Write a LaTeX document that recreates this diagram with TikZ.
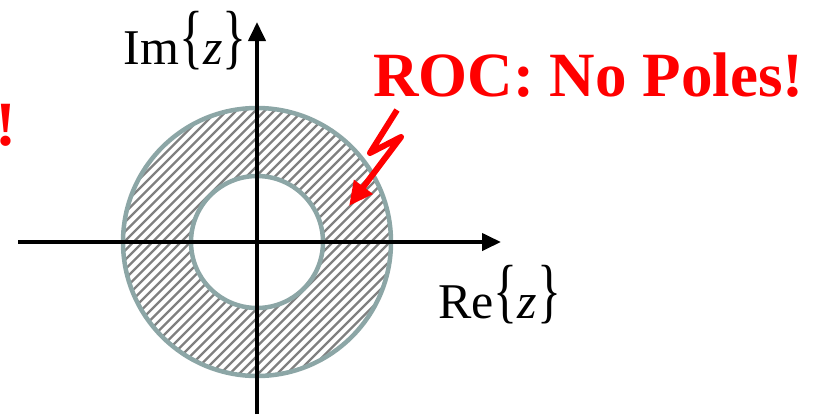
\documentclass[tikz,border=0pt]{standalone}
\usepackage{fontspec}
\setmainfont{Liberation Serif}
\usetikzlibrary{arrows.meta}
\definecolor{ringgray}{RGB}{140,166,166}
\definecolor{hatchgray}{RGB}{128,128,128}
\newcommand{\tallbr}[1]{\raisebox{0.07em}{\scalebox{1}[1.42]{#1}}}
\tikzset{
  axis/.style    = {line width=4bp, -{Triangle[length=19bp, width=17bp]}},
  ring/.style    = {draw=ringgray, line width=4.5bp},
  hatch/.style   = {draw=hatchgray, line width=2.2bp},
  axlabel/.style = {font=\fontsize{50bp}{56bp}\selectfont, inner sep=0pt},
  alert/.style   = {text=red, font=\fontsize{63bp}{70bp}\selectfont\bfseries, inner sep=0pt},
  bolt/.style    = {draw=red, line width=6bp, line join=round,
                    -{Triangle[length=24bp, width=22bp]}},
}
\begin{document}
\begin{tikzpicture}[x=1bp, y=-1bp]
\useasboundingbox (0,0) rectangle (827,417);

\coordinate (o) at (257,242);
\coordinate (xl) at (18,242);
\coordinate (xr) at (501,242);
\coordinate (yb) at (257,414);
\coordinate (yt) at (257,22);

\begin{scope}[even odd rule]
  \clip (o) circle[radius=134] (o) circle[radius=66];
  \foreach \k in {-30,...,30}
    \draw[hatch] ([xshift=\k*9.5bp-150bp, yshift=-150bp]o) -- ++(300,-300);
\end{scope}
\draw[ring] (o) circle[radius=134];
\draw[ring] (o) circle[radius=66];

\draw[axis] (xl) -- (xr);
\draw[axis] (yb) -- (yt);

\node[axlabel, anchor=base east] (im) at (247,64) {Im\tallbr{\{}\textit{z}\tallbr{\}}};
\node[axlabel, anchor=base west] (re) at (438,318) {Re\tallbr{\{}\textit{z}\tallbr{\}}};

\node[alert, anchor=base west] (roc) at (373,96) {ROC: No Poles!};
\node[alert, anchor=base east] (bang) at (17,145) {!};

\coordinate (b0) at (397,110);
\coordinate (b1) at (370,153);
\coordinate (b2) at (401,137);
\coordinate (b3) at (349,206);
\draw[bolt] (b0) -- (b1) -- (b2) -- (b3);

\end{tikzpicture}
\end{document}
